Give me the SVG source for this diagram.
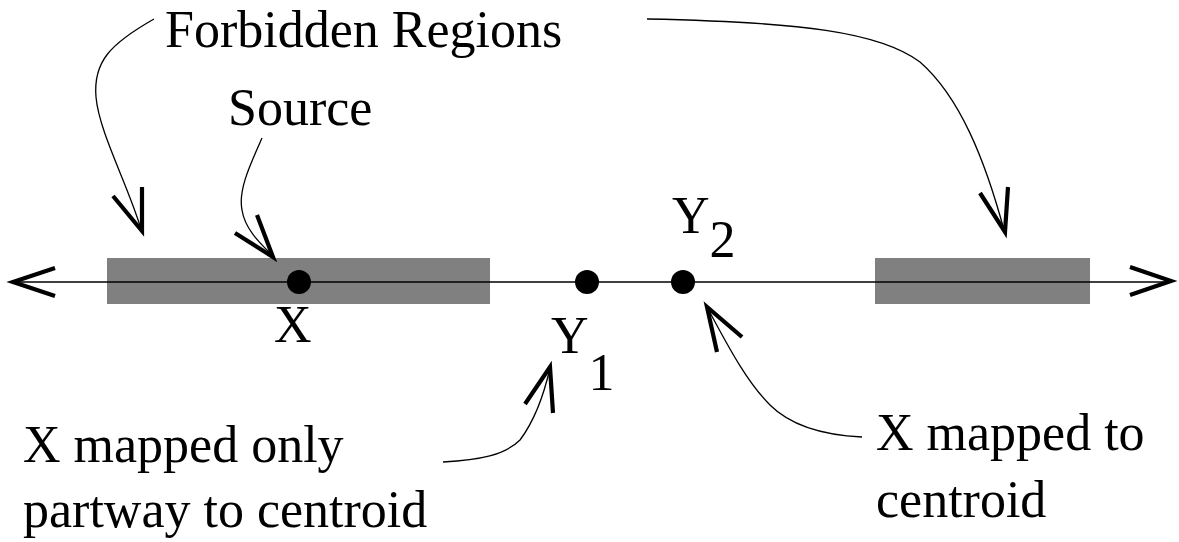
<svg xmlns="http://www.w3.org/2000/svg" width="1179" height="542" viewBox="0 0 1179 542">
<style>
  .t { font-family: "Liberation Serif", "Times New Roman", serif; font-size: 52px; fill: #000; }
  .region { fill: #808080; stroke: none; }
  .dot { fill: #000; }
  .axis { stroke: #000; stroke-width: 1.4; fill: none; }
  .curve { stroke: #000; stroke-width: 1.3; fill: none; }
  .head { stroke: #000; stroke-width: 4.2; fill: none; stroke-linejoin: miter; stroke-linecap: butt; }
</style>
<rect width="1179" height="542" fill="#fff"/>
<g id="region-left"><rect class="region" x="107" y="258" width="383" height="46"/></g>
<g id="region-right"><rect class="region" x="875" y="258" width="215" height="46"/></g>
<g id="connectors">
  <line class="axis" x1="12" y1="282" x2="1172" y2="282"/>
  <polyline class="head" points="55,268 13,282 55,296"/>
  <polyline class="head" points="1130,267 1171,281 1130,295"/>
  <path class="curve" d="M154,19 C110,44 93,62 96,97 C99,132 128,185 141,229"/>
  <polyline class="head" points="113,196 142,231 142,187"/>
  <path class="curve" d="M262,138 C250,165 238,190 242,210 C245,230 262,245 272,255"/>
  <polyline class="head" points="235,233 273,257 257,215"/>
  <path class="curve" d="M647,19 C800,22 880,32 920,62 C960,97 985,160 1004,230"/>
  <polyline class="head" points="980,193 1005,232 1008,187"/>
  <path class="curve" d="M443,462 C480,460 505,455 520,440 C535,420 545,390 550,368"/>
  <polyline class="head" points="525,404 550,367 553,413"/>
  <path class="curve" d="M862,437 C820,435 790,425 770,405 C745,380 725,340 708,309"/>
  <polyline class="head" points="717,352 707,307 742,337"/>
</g>
<g id="node-x"><circle class="dot" cx="299" cy="282" r="12"/><text class="t" x="274" y="342">X</text></g>
<g id="node-y1"><circle class="dot" cx="587" cy="282" r="12"/><text class="t" x="551" y="353">Y<tspan dy="37">1</tspan></text></g>
<g id="node-y2"><circle class="dot" cx="683" cy="282" r="12"/><text class="t" x="672" y="233">Y<tspan dy="24">2</tspan></text></g>
<g id="label-forbidden"><text class="t" x="165" y="47">Forbidden Regions</text></g>
<g id="label-source"><text class="t" x="228" y="125">Source</text></g>
<g id="label-partway"><text class="t" x="23" y="462">X mapped only</text><text class="t" x="23" y="527">partway to centroid</text></g>
<g id="label-centroid"><text class="t" x="876" y="450">X mapped to</text><text class="t" x="876" y="517">centroid</text></g>
</svg>
